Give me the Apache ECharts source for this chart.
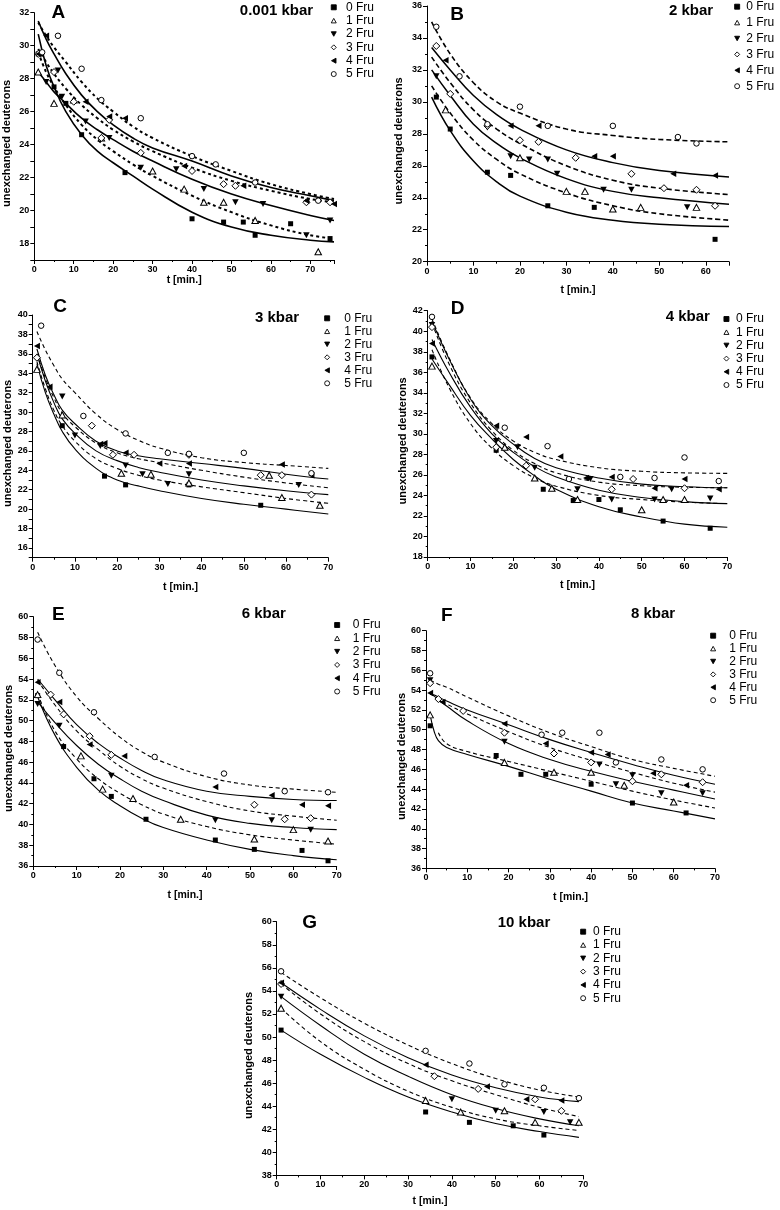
<!DOCTYPE html>
<html><head><meta charset="utf-8">
<script src="https://cdn.jsdelivr.net/npm/echarts@6/dist/echarts.min.js"></script>
<style>html,body{margin:0;padding:0;background:#fff}#c{width:780px;height:1210px}</style>
</head><body><div id="c"></div>
<script>
// ---------- DATA ----------
const seriesNames = ['0 Fru','1 Fru','2 Fru','3 Fru','4 Fru','5 Fru'];

// Panel A (0.001 kbar)
const A_t = [1,3,5,8,12,16,20,25,30,40,50,60,70,76];
const A_fit0 = [30.7,28.8,27.5,26.0,24.6,23.6,22.9,22.1,21.3,19.9,19.0,18.5,18.2,18.1];
const A_fit1 = [29.6,28.4,27.5,26.4,25.2,24.3,23.6,22.8,22.1,20.9,19.9,19.1,18.5,18.3];
const A_fit2 = [28.4,27.8,27.2,26.5,25.6,24.9,24.3,23.6,23.0,21.9,21.0,20.3,19.7,19.4];
const A_fit3 = [29.8,29.0,28.3,27.4,26.4,25.6,24.9,24.2,23.6,22.6,21.8,21.2,20.7,20.5];
const A_fit4 = [31.5,30.4,29.5,28.3,27.0,26.0,25.2,24.4,23.8,23.0,22.1,21.4,20.9,20.6];
const A_fit5 = [31.4,30.6,29.9,29.0,27.8,26.8,26.0,25.1,24.4,23.3,22.4,21.6,21.0,20.7];
const A_pts0 = [[1,29.5],[5,27.5],[8,26.5],[12,24.6],[23,22.3],[40,19.5],[48,19.3],[53,19.3],[56,18.5],[65,19.2],[75,18.3]];
const A_pts1 = [[1,28.4],[5,26.5],[10,26.7],[17,24.4],[30,22.4],[38,21.3],[43,20.5],[48,20.5],[56,19.4],[72,17.5]];
const A_pts2 = [[3,27.8],[6,28.5],[7,26.9],[13,25.4],[19,24.4],[27,22.6],[36,22.5],[43,21.3],[51,20.5],[58,20.4],[69,18.5],[75,19.4]];
const A_pts3 = [[1,29.5],[5,28.4],[10,26.6],[17,24.4],[19,25.5],[27,23.5],[40,22.4],[48,21.6],[51,21.5],[69,20.5],[75,20.5]];
const A_pts4 = [[1,29.5],[3,30.6],[13,26.6],[19,25.7],[23,25.6],[38,22.7],[53,21.5],[69,20.6],[76,20.4]];
const A_pts5 = [[2,29.6],[6,30.6],[12,28.6],[17,26.7],[27,25.6],[40,23.3],[46,22.8],[56,21.7],[72,20.6]];

// Panel B (2 kbar)
const B_t = [1,5,10,15,20,30,40,50,65];
const B_fit0 = [30.3,28.2,26.3,25.0,24.1,23.1,22.6,22.35,22.2];
const B_fit1 = [31.0,29.3,27.6,26.4,25.5,24.3,23.5,23.0,22.6];
const B_fit2 = [32.0,30.4,28.6,27.4,26.5,25.2,24.4,24.0,23.6];
const B_fit3 = [32.8,31.2,29.5,28.3,27.4,26.0,25.1,24.6,24.2];
const B_fit4 = [33.4,32.0,30.4,29.2,28.3,27.0,26.2,25.7,25.3];
const B_fit5 = [35.0,33.0,31.2,30.0,29.3,28.3,27.9,27.65,27.5];
const B_pts0 = [[2,30.3],[5,28.3],[13,25.6],[18,25.4],[26,23.5],[36,23.4],[62,21.4]];
const B_pts1 = [[4,29.5],[20,26.5],[30,24.4],[34,24.4],[40,23.3],[46,23.4],[58,23.4]];
const B_pts2 = [[2,31.6],[13,28.4],[18,26.6],[22,26.4],[26,26.4],[28,25.5],[38,24.5],[44,24.5],[56,23.4]];
const B_pts3 = [[2,33.5],[5,30.5],[13,28.5],[20,27.6],[24,27.5],[32,26.5],[44,25.5],[51,24.6],[58,24.5],[62,23.5]];
const B_pts4 = [[4,32.6],[18,28.5],[24,28.5],[36,26.6],[40,26.6],[53,25.5],[62,25.4]];
const B_pts5 = [[2,34.7],[7,31.6],[13,28.6],[20,29.7],[26,28.5],[40,28.5],[54,27.8],[58,27.4]];

// Panel C (3 kbar)
const C_t = [1,3,5,7,10,15,20,25,30,40,50,60,70];
const C_fit0 = [35.0,32.0,29.8,28.0,26.2,24.2,23.0,22.4,21.9,21.1,20.5,20.0,19.5];
const C_fit1 = [35.2,32.4,30.2,28.6,27.0,25.2,24.2,23.5,23.0,22.3,21.7,21.1,20.6];
const C_fit2 = [36.0,33.2,31.0,29.3,27.8,26.0,25.0,24.3,23.8,23.0,22.4,21.9,21.5];
const C_fit3 = [36.0,33.5,31.5,29.9,28.5,26.8,25.8,25.2,24.8,24.0,23.3,22.7,22.2];
const C_fit4 = [36.5,33.8,31.8,30.2,28.8,27.0,26.0,25.5,25.2,24.7,24.2,23.6,23.1];
const C_fit5 = [38.3,36.4,34.8,33.4,32.0,29.8,28.2,27.1,26.3,25.3,24.8,24.5,24.2];
const C_pts0 = [[7,28.6],[17,23.4],[22,22.5],[37,22.5],[54,20.4]];
const C_pts1 = [[1,34.4],[7,29.7],[21,23.7],[28,23.6],[37,22.7],[56,23.5],[59,21.2],[68,20.4]];
const C_pts2 = [[7,31.6],[10,27.6],[16,26.5],[22,24.5],[26,23.6],[32,22.6],[37,23.6],[63,22.5]];
const C_pts3 = [[1,35.6],[14,28.6],[19,25.6],[24,25.6],[37,25.6],[54,23.5],[59,23.5],[66,21.5]];
const C_pts4 = [[1,36.8],[4,32.6],[16,26.7],[17,26.8],[22,25.8],[30,24.7],[37,24.7],[59,24.6],[66,23.5]];
const C_pts5 = [[2,38.9],[12,29.6],[22,27.8],[32,25.8],[37,25.7],[50,25.8],[66,23.7]];

// Panel D (4 kbar)
const D_t = [1,5,10,15,20,25,30,40,50,60,70];
const D_fit0 = [37.3,34.8,31.8,29.5,27.5,25.9,24.6,22.9,21.9,21.2,20.9];
const D_fit1 = [38.2,34.5,31.0,28.6,26.9,25.7,24.9,24.0,23.6,23.35,23.2];
const D_fit2 = [39.2,36.0,32.6,30.0,28.2,26.8,25.8,24.5,23.8,23.4,23.2];
const D_fit3 = [40.8,36.8,33.0,30.3,28.4,27.1,26.2,25.3,24.95,24.8,24.75];
const D_fit4 = [41.0,37.3,33.4,30.8,29.0,27.6,26.7,25.7,25.1,24.85,24.75];
const D_fit5 = [41.2,37.4,33.5,31.0,29.3,28.2,27.5,26.7,26.35,26.2,26.15];
const D_pts0 = [[1,37.5],[16,28.4],[27,24.6],[34,23.5],[40,23.6],[45,22.6],[55,21.5],[66,20.8]];
const D_pts1 = [[1,36.6],[18,28.7],[25,25.7],[29,24.7],[35,23.6],[50,22.6],[55,23.6],[60,23.6]];
const D_pts2 = [[1,40.6],[16,29.3],[21,28.7],[25,26.7],[35,24.6],[38,25.6],[43,23.6],[53,23.6],[57,24.6],[66,23.7]];
const D_pts3 = [[1,40.4],[16,28.7],[23,26.9],[43,24.6],[48,25.6],[60,24.7]];
const D_pts4 = [[1,38.8],[16,30.8],[23,29.7],[31,27.8],[37,25.7],[43,25.8],[53,24.7],[60,25.6],[68,24.6]];
const D_pts5 = [[1,41.4],[18,30.6],[28,28.8],[33,25.6],[45,25.8],[53,25.7],[60,27.7],[68,25.4]];

// Panel E (6 kbar)
const E_t = [1,5,10,15,20,25,30,40,50,60,70];
const E_fit0 = [52.3,48.6,45.5,43.3,41.8,40.6,39.7,38.5,37.6,37.0,36.6];
const E_fit1 = [52.6,49.0,46.3,44.4,43.0,41.9,41.0,39.8,39.0,38.5,38.1];
const E_fit2 = [51.8,49.8,47.6,45.8,44.4,43.2,42.3,40.9,40.1,39.7,39.5];
const E_fit3 = [53.9,51.5,49.0,47.2,45.6,44.4,43.5,42.2,41.3,40.8,40.4];
const E_fit4 = [54.0,52.0,49.6,47.8,46.4,45.2,44.3,43.2,42.7,42.4,42.3];
const E_fit5 = [58.5,55.3,52.3,50.2,48.4,47.0,46.0,44.6,43.8,43.4,43.1];
const E_pts0 = [[1,52.4],[7,47.5],[14,44.4],[18,42.7],[26,40.5],[42,38.5],[51,37.6],[62,37.5],[68,36.5]];
const E_pts1 = [[1,52.5],[11,46.6],[16,43.4],[23,42.5],[34,40.5],[51,38.6],[60,39.5],[68,38.4]];
const E_pts2 = [[1,51.6],[6,49.5],[18,44.7],[42,40.4],[55,40.4],[64,39.5]];
const E_pts3 = [[4,52.5],[7,50.6],[13,48.5],[18,46.7],[51,41.9],[58,40.5],[64,40.6]];
const E_pts4 = [[1,53.7],[6,51.8],[13,47.7],[21,46.6],[42,43.6],[55,42.8],[62,41.9],[68,41.8]];
const E_pts5 = [[1,57.8],[6,54.6],[14,50.8],[28,46.5],[44,44.9],[58,43.2],[68,43.1]];

// Panel F (8 kbar)
const F_t = [1,2,3,5,10,20,30,40,50,60,70];
const F_fit0 = [51.5,49.8,48.9,48.2,47.5,46.3,45.0,43.8,42.6,41.8,41.0];
const F_fit1 = [null,null,49.7,48.6,47.8,46.8,45.8,44.8,43.8,42.9,42.1];
const F_fit2 = [53.7,53.4,53.0,52.4,50.9,48.6,47.0,45.8,44.8,43.9,43.0];
const F_fit3 = [53.6,53.4,53.1,52.6,51.6,49.8,48.2,46.9,45.7,44.6,43.7];
const F_fit4 = [53.6,53.5,53.3,52.9,52.0,50.5,49.0,47.7,46.5,45.4,44.5];
const F_fit5 = [55.0,54.8,54.6,54.3,53.3,51.4,49.7,48.3,47.0,46.1,45.3];
const F_pts0 = [[1,50.4],[17,47.4],[23,45.5],[29,45.5],[40,44.5],[50,42.6],[63,41.6]];
const F_pts1 = [[1,51.5],[19,46.7],[31,45.7],[40,45.7],[48,44.4],[60,42.7]];
const F_pts2 = [[1,55.0],[19,48.8],[42,46.5],[46,44.5],[50,45.4],[57,43.6],[67,43.6]];
const F_pts3 = [[1,54.7],[3,53.1],[9,51.9],[19,49.7],[31,47.6],[40,46.7],[50,44.8],[57,45.5],[67,44.7]];
const F_pts4 = [[1,53.7],[4,52.8],[19,50.6],[29,48.6],[40,47.7],[44,47.5],[55,45.6],[63,44.4]];
const F_pts5 = [[1,55.7],[28,49.5],[33,49.7],[42,49.7],[46,46.7],[57,47.0],[67,46.0]];

// Panel G (10 kbar)
const G_t = [1,10,20,30,40,50,60,69];
const G_fit0 = [50.6,48.5,46.5,44.8,43.5,42.5,41.8,41.3];
const G_fit1 = [52.5,49.6,47.2,45.3,43.9,42.9,42.3,41.9];
const G_fit2 = [53.5,51.0,48.5,46.6,45.0,43.8,42.9,42.3];
const G_fit3 = [54.6,52.0,49.6,47.7,46.2,45.0,43.9,43.1];
const G_fit4 = [54.7,52.4,50.1,48.2,46.7,45.6,44.8,44.4];
const G_fit5 = [55.6,53.4,51.2,49.3,47.7,46.4,45.4,44.8];
const G_pts0 = [[1,50.6],[34,43.5],[44,42.6],[54,42.3],[61,41.5]];
const G_pts1 = [[1,52.5],[34,44.5],[42,43.5],[52,43.6],[59,42.6],[69,42.6]];
const G_pts2 = [[1,53.5],[40,44.6],[50,43.6],[61,43.5],[67,42.6]];
const G_pts3 = [[1,54.6],[36,46.6],[46,45.5],[59,44.6],[65,43.6]];
const G_pts4 = [[1,54.7],[34,47.6],[48,45.7],[57,44.6],[65,44.5]];
const G_pts5 = [[1,55.7],[34,48.8],[44,47.7],[52,45.9],[61,45.6],[69,44.7]];

const panelLetters = ['A','B','C','D','E','F','G'];
const pressures = ['0.001 kbar','2 kbar','3 kbar','4 kbar','6 kbar','8 kbar','10 kbar'];
const xMaxes = [76,65,70,70,70,70,70];
const yRanges = [[17,32],[20,36],[15,40],[18,42],[36,60],[36,60],[38,60]];

const fitData = {
  A:[A_t,[A_fit0,A_fit1,A_fit2,A_fit3,A_fit4,A_fit5]],
  B:[B_t,[B_fit0,B_fit1,B_fit2,B_fit3,B_fit4,B_fit5]],
  C:[C_t,[C_fit0,C_fit1,C_fit2,C_fit3,C_fit4,C_fit5]],
  D:[D_t,[D_fit0,D_fit1,D_fit2,D_fit3,D_fit4,D_fit5]],
  E:[E_t,[E_fit0,E_fit1,E_fit2,E_fit3,E_fit4,E_fit5]],
  F:[F_t,[F_fit0,F_fit1,F_fit2,F_fit3,F_fit4,F_fit5]],
  G:[G_t,[G_fit0,G_fit1,G_fit2,G_fit3,G_fit4,G_fit5]]
};
const ptsData = {
  A:[A_pts0,A_pts1,A_pts2,A_pts3,A_pts4,A_pts5],
  B:[B_pts0,B_pts1,B_pts2,B_pts3,B_pts4,B_pts5],
  C:[C_pts0,C_pts1,C_pts2,C_pts3,C_pts4,C_pts5],
  D:[D_pts0,D_pts1,D_pts2,D_pts3,D_pts4,D_pts5],
  E:[E_pts0,E_pts1,E_pts2,E_pts3,E_pts4,E_pts5],
  F:[F_pts0,F_pts1,F_pts2,F_pts3,F_pts4,F_pts5],
  G:[G_pts0,G_pts1,G_pts2,G_pts3,G_pts4,G_pts5]
};

// ---------- LAYOUT / STYLE ----------
const FONT = '"Liberation Sans", Arial, Helvetica, sans-serif';
const layout = [
  {grid:[34.3,12.7,299.7,247.3], yInt:1, yGap:21.5, xGap:15, leg:[330.8,1.3,1.35,4.7], letter:[58.3,13], press:[276.5,10.5], lw:1.6, dash:[3,3], dw:2},
  {grid:[427,6,302,255.7], yInt:2, yGap:22.3, xGap:23, leg:[734.2,0.7,3.9,1.5], letter:[457,14.5], press:[691,11], lw:1.5, dash:[5,3], dw:1.6},
  {grid:[32.7,315,295.6,242.7], yInt:1, yGap:19.7, xGap:24, leg:[324.2,312.3,1,9.6], letter:[60,306.7], press:[277,318], lw:1.1, dash:[4,3], dw:1.1},
  {grid:[427.7,310.7,299.6,246.3], yInt:2, yGap:19.7, xGap:23, leg:[723.5,313,1.2,2], letter:[457.5,308.3], press:[687.8,316.7], lw:1.1, dash:[4,3], dw:1.1},
  {grid:[33.3,616.7,303.4,249.3], yInt:2, yGap:18.6, xGap:24, leg:[334.2,619,1.3,8], letter:[58.3,615], press:[263.8,614], lw:1.1, dash:[4,3], dw:1.1},
  {grid:[426,630.7,289,237.7], yInt:2, yGap:18, xGap:23, leg:[710.2,629.7,0.9,8.6], letter:[446.7,615.8], press:[653,614], lw:1.1, dash:[4,3], dw:1.1},
  {grid:[276.7,921.7,306.6,253.7], yInt:2, yGap:22.2, xGap:20, leg:[580.2,925.7,1.3,2.3], letter:[309.7,922.5], press:[524,922.5], lw:1.1, dash:[4,3], dw:1.1}
];
// marker shapes: square, open up-triangle, filled down-triangle, open diamond, filled left-triangle, open circle
const symbols = [
  {symbol:'rect', size:5, filled:true},
  {symbol:'path://M5,0 L10,9 L0,9 Z', size:[6.5,6], filled:false},
  {symbol:'path://M0,0 L10,0 L5,9 Z', size:[6.5,6], filled:true},
  {symbol:'diamond', size:7, filled:false},
  {symbol:'path://M9,0 L9,10 L0,5 Z', size:[6,6.5], filled:true},
  {symbol:'circle', size:5.5, filled:false}
];

const grids = [], xAxes = [], yAxes = [], series = [], legends = [], graphics = [];
const axisCommon = {
  axisLine:{show:true, onZero:false, lineStyle:{color:'#000', width:1}},
  axisTick:{show:true, inside:false, length:4, lineStyle:{color:'#000'}},
  splitLine:{show:false}
};
panelLetters.forEach((key, i) => {
  const L = layout[i];
  grids.push({left:L.grid[0], top:L.grid[1], width:L.grid[2], height:L.grid[3], containLabel:false, outerBoundsMode:'none'});
  xAxes.push(Object.assign({}, axisCommon, {
    type:'value', gridIndex:i, min:0, max:xMaxes[i], interval:10,
    minorTick:{show:true, splitNumber:2, length:2, lineStyle:{color:'#000'}},
    axisLabel:{show:true, margin:5, color:'#000', fontSize:9, fontWeight:'bold', fontFamily:FONT,
      showMaxLabel: xMaxes[i] % 10 === 0,
      formatter: v => (v % 10 === 0 ? String(v) : '')},
    name:'t [min.]', nameLocation:'middle', nameGap:L.xGap,
    nameTextStyle:{color:'#000', fontSize:10.5, fontWeight:'bold', fontFamily:FONT}
  }));
  const yAx = Object.assign({}, axisCommon, {
    type:'value', gridIndex:i, min:yRanges[i][0], max:yRanges[i][1], interval:L.yInt,
    axisLabel:{show:true, margin:5, color:'#000', fontSize:9, fontWeight:'bold', fontFamily:FONT,
      formatter: v => (v % 2 === 0 ? String(v) : '')},
    name:'unexchanged deuterons', nameLocation:'middle', nameGap:L.yGap, nameRotate:90,
    nameTextStyle:{color:'#000', fontSize:11, fontWeight:'bold', fontFamily:FONT, padding:[0,14,0,0]}
  });
  if (L.yInt === 2) yAx.minorTick = {show:true, splitNumber:2, length:2, lineStyle:{color:'#000'}};
  yAxes.push(yAx);

  const [tArr, fits] = fitData[key];
  fits.forEach((f, k) => {
    series.push({
      type:'line', name:key + ' fit ' + k, xAxisIndex:i, yAxisIndex:i,
      data: tArr.map((t, j) => [t, f[j]]),
      showSymbol:false, symbol:'none', smooth:0.45, silent:true, z:2,
      lineStyle:{color:'#000', width: k % 2 ? L.dw : L.lw, type: k % 2 ? L.dash : 'solid'},
      emphasis:{disabled:true}
    });
  });
  ptsData[key].forEach((pts, k) => {
    const s = symbols[k];
    series.push({
      type:'scatter', name:seriesNames[k], xAxisIndex:i, yAxisIndex:i, data:pts,
      symbol:s.symbol, symbolSize:s.size, z:3, silent:true,
      itemStyle:{color: s.filled ? '#000' : '#fff', borderColor:'#000', borderWidth: s.filled ? 0 : 1, opacity:1},
      emphasis:{disabled:true}
    });
  });
  legends.push({
    data:seriesNames, orient:'vertical', left:L.leg[0], top:L.leg[1], itemGap:L.leg[2],
    itemWidth:5, itemHeight:5, selectedMode:false, padding:0,
    itemStyle:{borderWidth:0.9},
    textStyle:{color:'#000', fontSize:12, fontFamily:FONT, padding:[0,0,0,L.leg[3]]}
  });
  graphics.push({type:'text', x:L.letter[0], y:L.letter[1], silent:true,
    style:{text:key, font:'bold 19px ' + FONT, fill:'#000', textAlign:'center', textVerticalAlign:'middle'}});
  graphics.push({type:'text', x:L.press[0], y:L.press[1], silent:true,
    style:{text:pressures[i], font:'bold 15px ' + FONT, fill:'#000', textAlign:'center', textVerticalAlign:'middle'}});
});

const chart = echarts.init(document.getElementById('c'), null, {renderer:'canvas', width:780, height:1210});
chart.setOption({
  backgroundColor:'#fff', animation:false,
  grid:grids, xAxis:xAxes, yAxis:yAxes, series:series, legend:legends, graphic:graphics
});
</script>
</body></html>
